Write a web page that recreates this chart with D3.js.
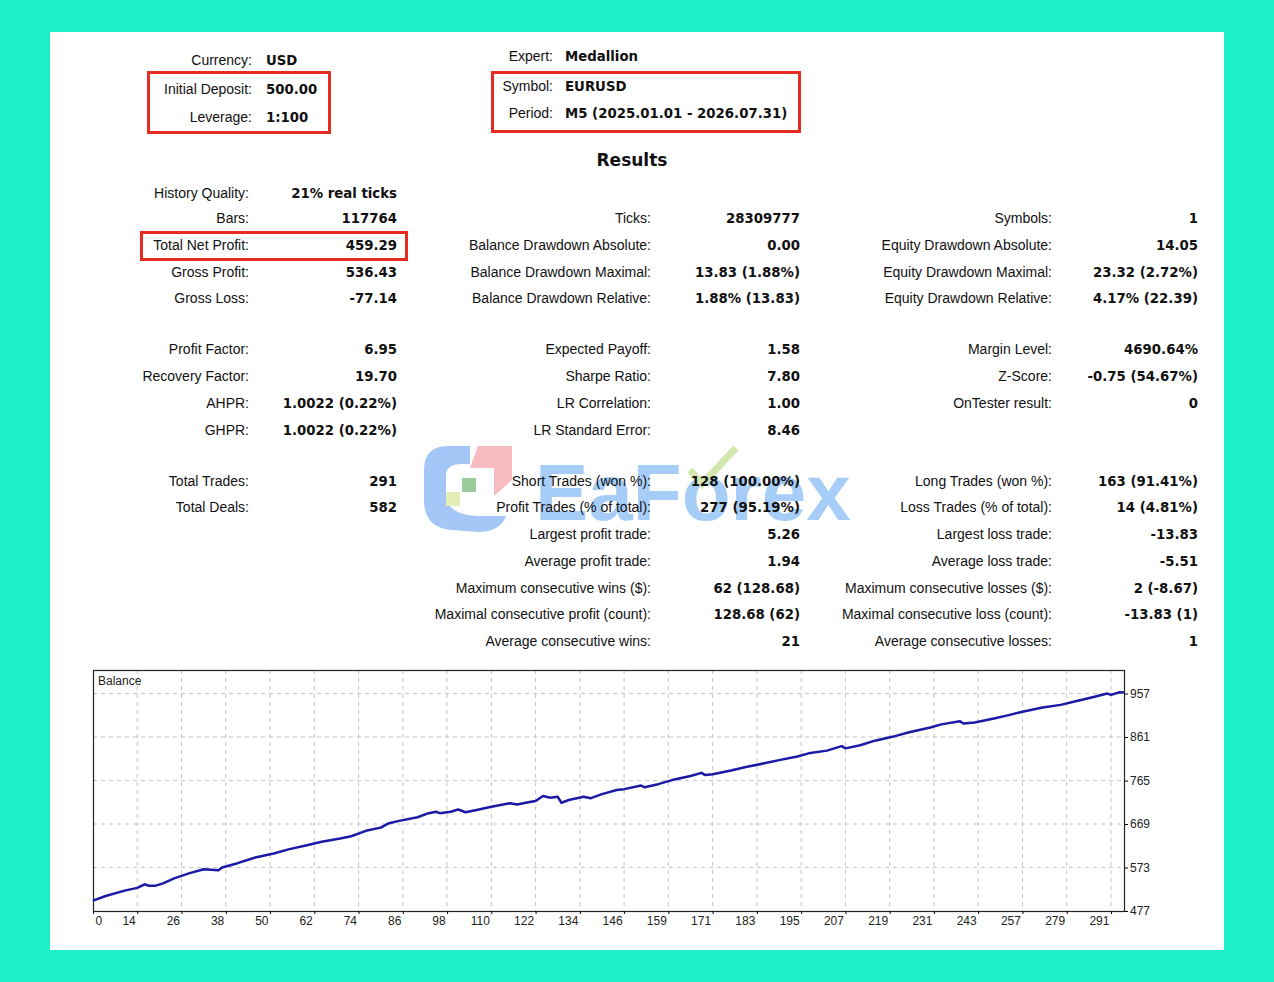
<!DOCTYPE html>
<html>
<head>
<meta charset="utf-8">
<script src="https://cdn.jsdelivr.net/npm/d3@7/dist/d3.min.js"></script>
<style>
  body { margin: 0; background: #1cf0c9; }
  svg { display: block; }
  text { font-family: "Liberation Sans", Arial, sans-serif; fill: #111; }
</style>
</head>
<body>
<svg id="page" width="1274" height="982"></svg>
<script>
/* ---------- report text ---------- */
const headerLeft = [
  ['Currency:', 'USD'],
  ['Initial Deposit:', '500.00'],
  ['Leverage:', '1:100']
]
const headerRight = [
  ['Expert:', 'Medallion'],
  ['Symbol:', 'EURUSD'],
  ['Period:', 'M5 (2025.01.01 - 2026.07.31)']
]

// null = empty row
const statsCol1 = [
  ['History Quality:', '21% real ticks'],
  ['Bars:', '117764'],
  ['Total Net Profit:', '459.29'],
  ['Gross Profit:', '536.43'],
  ['Gross Loss:', '-77.14'],
  null,
  ['Profit Factor:', '6.95'],
  ['Recovery Factor:', '19.70'],
  ['AHPR:', '1.0022 (0.22%)'],
  ['GHPR:', '1.0022 (0.22%)'],
  null,
  ['Total Trades:', '291'],
  ['Total Deals:', '582']
]
const statsCol2 = [
  null,
  ['Ticks:', '28309777'],
  ['Balance Drawdown Absolute:', '0.00'],
  ['Balance Drawdown Maximal:', '13.83 (1.88%)'],
  ['Balance Drawdown Relative:', '1.88% (13.83)'],
  null,
  ['Expected Payoff:', '1.58'],
  ['Sharpe Ratio:', '7.80'],
  ['LR Correlation:', '1.00'],
  ['LR Standard Error:', '8.46'],
  null,
  ['Short Trades (won %):', '128 (100.00%)'],
  ['Profit Trades (% of total):', '277 (95.19%)'],
  ['Largest profit trade:', '5.26'],
  ['Average profit trade:', '1.94'],
  ['Maximum consecutive wins ($):', '62 (128.68)'],
  ['Maximal consecutive profit (count):', '128.68 (62)'],
  ['Average consecutive wins:', '21']
]
const statsCol3 = [
  null,
  ['Symbols:', '1'],
  ['Equity Drawdown Absolute:', '14.05'],
  ['Equity Drawdown Maximal:', '23.32 (2.72%)'],
  ['Equity Drawdown Relative:', '4.17% (22.39)'],
  null,
  ['Margin Level:', '4690.64%'],
  ['Z-Score:', '-0.75 (54.67%)'],
  ['OnTester result:', '0'],
  null,
  null,
  ['Long Trades (won %):', '163 (91.41%)'],
  ['Loss Trades (% of total):', '14 (4.81%)'],
  ['Largest loss trade:', '-13.83'],
  ['Average loss trade:', '-5.51'],
  ['Maximum consecutive losses ($):', '2 (-8.67)'],
  ['Maximal consecutive loss (count):', '-13.83 (1)'],
  ['Average consecutive losses:', '1']
]

/* ---------- balance chart data ---------- */
const xTickLabels = [0, 14, 26, 38, 50, 62, 74, 86, 98, 110, 122, 134, 146, 159, 171, 183, 195, 207, 219, 231, 243, 257, 279, 291]
const yTickLabels = [477, 573, 669, 765, 861, 957]

const deals = [0, 4, 10, 14, 16, 17, 19, 21, 24, 28, 32, 36, 37, 41, 46, 51, 55, 60, 64, 69, 72, 76, 80, 82, 85, 90, 93, 95, 96, 99, 101, 103, 106, 110, 115, 117, 120, 122, 124, 126, 128, 129, 131, 135, 137, 140, 144, 146, 151, 152, 156, 160, 165, 168, 169, 171, 176, 180, 185, 189, 194, 197, 202, 206, 207, 211, 215, 220, 224, 230, 233, 238, 239, 242, 248, 253, 257, 267, 276, 282, 286, 290, 291, 293, 294]
const balance = [500, 510, 522, 528, 536, 533, 533, 538, 549, 560, 569, 567, 573, 582, 595, 604, 613, 622, 630, 637, 642, 654, 661, 670, 676, 684, 693, 696, 693, 696, 701, 695, 700, 707, 715, 712, 717, 720, 731, 727, 729, 716, 722, 729, 726, 735, 744, 746, 754, 750, 757, 766, 775, 782, 777, 779, 787, 795, 803, 810, 818, 825, 831, 841, 836, 843, 853, 862, 871, 882, 889, 896, 891, 893, 902, 910, 917, 926, 932, 941, 949, 957, 954, 960, 959.29]

/* ---------- settings ---------- */
const settings = {
  redBox: '#e62b20',
  lineColor: '#1a1aa6',
  gridColor: '#c4c4c4',
  labelFont: '"Liberation Sans", Arial, sans-serif',
  labelSize: 14,
  valueFont: '"DejaVu Sans", sans-serif',
  valueSize: 13.3
}

const svg = d3.select('#page')

// white report sheet
svg.append('rect')
  .attr('x', 50).attr('y', 32)
  .attr('width', 1174).attr('height', 918)
  .attr('fill', '#fff')

/* ---------- header ---------- */
function addLabel(g, txt, xPos, yPos, anchor) {
  return g.append('text').attr('x', xPos).attr('y', yPos)
    .attr('text-anchor', anchor)
    .style('font-family', settings.labelFont)
    .style('font-size', settings.labelSize + 'px')
    .text(txt)
}
function addValue(g, txt, xPos, yPos, anchor) {
  return g.append('text').attr('x', xPos).attr('y', yPos)
    .attr('text-anchor', anchor)
    .style('font-family', settings.valueFont)
    .style('font-size', settings.valueSize + 'px')
    .style('font-weight', 'bold')
    .text(txt)
}

const header = svg.append('g')
const headLeftY = [65, 94, 122]
const headRightY = [61, 91, 118]
headerLeft.forEach((d, i) => {
  addLabel(header, d[0], 252, headLeftY[i], 'end')
  addValue(header, d[1], 266, headLeftY[i], 'start')
})
headerRight.forEach((d, i) => {
  addLabel(header, d[0], 553, headRightY[i], 'end')
  addValue(header, d[1], 565, headRightY[i], 'start')
})

header.append('rect').attr('x', 148.5).attr('y', 72.5).attr('width', 181).attr('height', 60)
  .attr('fill', 'none').attr('stroke', settings.redBox).attr('stroke-width', 3)
header.append('rect').attr('x', 492.5).attr('y', 72.5).attr('width', 307).attr('height', 59)
  .attr('fill', 'none').attr('stroke', settings.redBox).attr('stroke-width', 3)

header.append('text').attr('x', 632).attr('y', 166)
  .attr('text-anchor', 'middle')
  .style('font-family', settings.valueFont)
  .style('font-size', '17px').style('font-weight', 'bold')
  .text('Results')

/* ---------- watermark ---------- */
const wm = svg.append('g').attr('opacity', 0.5)
wm.append('path')
  .attr('d', 'M470,446 L448,446 Q424,446 424,470 L424,500 Q424,528 452,530 L478,532 Q500,532 506,516 L476,516 Q446,514 446,494 L446,476 Q446,464 462,464 L470,464 Z')
  .attr('fill', '#4a8ff0')
wm.append('path')
  .attr('d', 'M478,446 L512,446 L512,480 L494,496 L494,468 L470,468 Z')
  .attr('fill', '#f07a86')
wm.append('rect').attr('x', 462).attr('y', 478).attr('width', 14).attr('height', 14).attr('fill', '#3a9a3a')
wm.append('rect').attr('x', 446).attr('y', 492).attr('width', 14).attr('height', 14).attr('fill', '#c8e070')
wm.append('text').attr('x', 535).attr('y', 520)
  .style('font-size', '80px').style('font-weight', 'bold')
  .style('fill', '#4d9cf2')
  .text('EaForex')
wm.append('path')
  .attr('d', 'M690,470 L702,484 L736,448')
  .attr('fill', 'none').attr('stroke', '#a8d060').attr('stroke-width', 7)

/* ---------- statistics ---------- */
function rowY(i) {
  if (i === 0) return 198
  const gaps = i > 10 ? 2 : i > 5 ? 1 : 0
  return 223 + (i - 1) * 26.75 - gaps * 2.5
}

function drawColumn(rows, labelEnd, valueEnd) {
  const g = svg.append('g')
  rows.forEach((d, i) => {
    if (!d) return
    addLabel(g, d[0], labelEnd, rowY(i), 'end')
    addValue(g, d[1], valueEnd, rowY(i), 'end')
  })
  return g
}

const c1 = drawColumn(statsCol1, 249, 397)
drawColumn(statsCol2, 651, 800)
drawColumn(statsCol3, 1052, 1198)

c1.append('rect').attr('x', 141.5).attr('y', 232.5).attr('width', 265).attr('height', 27)
  .attr('fill', 'none').attr('stroke', settings.redBox).attr('stroke-width', 3)

/* ---------- balance chart ---------- */
const plot = { left: 93, top: 670, right: 1124, bottom: 911 }
const gridStep = 44.26
const xDomain = xTickLabels.concat([294])
const xRange = xTickLabels.map((d, i) => plot.left + i * gridStep).concat([plot.right])

const x = d3.scaleLinear().domain(xDomain).range(xRange)
const y = d3.scaleLinear().domain([477, 1009]).range([plot.bottom, plot.top])

const chart = svg.append('g')

// grid
chart.append('g').selectAll('line')
  .data(xTickLabels.slice(1))
  .join('line')
  .attr('x1', d => x(d)).attr('x2', d => x(d))
  .attr('y1', plot.top).attr('y2', plot.bottom)
  .attr('stroke', settings.gridColor).attr('stroke-dasharray', '4,4')
chart.append('g').selectAll('line')
  .data(yTickLabels.slice(1))
  .join('line')
  .attr('x1', plot.left).attr('x2', plot.right)
  .attr('y1', d => y(d)).attr('y2', d => y(d))
  .attr('stroke', settings.gridColor).attr('stroke-dasharray', '4,4')

// axes
const xAxis = chart.append('g')
  .attr('transform', `translate(0,${plot.bottom})`)
  .call(d3.axisBottom(x).tickValues(xTickLabels).tickSize(3).tickSizeOuter(0).tickFormat(d3.format('d')))
xAxis.select('.domain').remove()
xAxis.selectAll('text')
  .attr('text-anchor', d => d === 0 ? 'start' : 'end')
  .attr('dx', d => d === 0 ? 2 : -2)
  .attr('y', 5)
  .style('font-size', '12px')
  .style('font-family', settings.labelFont)
  .style('fill', '#222')

const yAxis = chart.append('g')
  .attr('transform', `translate(${plot.right},0)`)
  .call(d3.axisRight(y).tickValues(yTickLabels).tickSize(4).tickSizeOuter(0))
yAxis.select('.domain').remove()
yAxis.selectAll('text')
  .attr('x', 6)
  .style('font-size', '12px')
  .style('font-family', settings.labelFont)
  .style('fill', '#222')

// frame
chart.append('rect')
  .attr('x', plot.left + 0.5).attr('y', plot.top + 0.5)
  .attr('width', plot.right - plot.left).attr('height', plot.bottom - plot.top)
  .attr('fill', 'none').attr('stroke', '#222').attr('stroke-width', 1.2)

chart.append('text').attr('x', plot.left + 5).attr('y', plot.top + 15)
  .style('font-size', '12px').style('fill', '#222')
  .text('Balance')

// balance line
const line = d3.line()
  .x((d, i) => x(deals[i]))
  .y(d => y(d))

chart.append('path')
  .datum(balance)
  .attr('d', line)
  .attr('fill', 'none')
  .attr('stroke', settings.lineColor)
  .attr('stroke-width', 2.5)
  .attr('stroke-linejoin', 'round')
</script>
</body>
</html>
